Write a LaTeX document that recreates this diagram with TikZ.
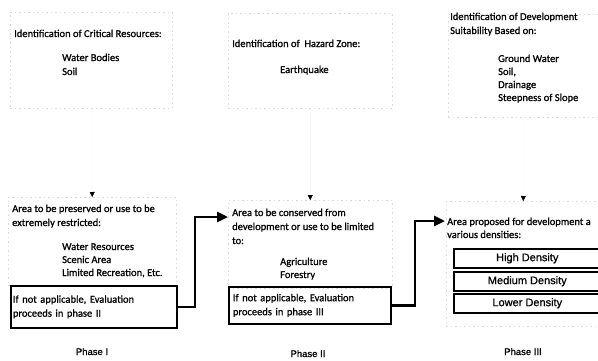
\documentclass[tikz,border=0pt]{standalone}
\usepackage{fontspec}
\setmainfont{Carlito}[FakeBold=0.9,BoldFont=Carlito]
\newfontfamily\arialf{Liberation Sans}[FakeBold=0.9,BoldFont=Liberation Sans]
\usetikzlibrary{arrows.meta}
\begin{document}
\begin{tikzpicture}[x=1pt,y=-1pt,
  txt/.style={anchor=base west, inner sep=0pt, font=\bfseries\fontsize{10.5}{12}\selectfont},
  faint/.style={draw=black!14, dash pattern=on 1.5pt off 3pt, line width=0.5pt, inner sep=0pt, anchor=north west},
  solidbox/.style={draw=black, line width=1.8pt, anchor=north west, align=left, inner ysep=0pt, font=\bfseries\fontsize{10.5}{14}\selectfont},
  densbox/.style={draw=black, line width=1.6pt, minimum height=19pt, minimum width=147pt, inner sep=0pt, anchor=north west, font=\arialf\bfseries\fontsize{11}{13}\selectfont},
  conn/.style={line width=2.6pt, -{Triangle[length=11pt,width=10pt]}},
  drop/.style={draw=black!3, line width=0.3pt, -{Triangle[length=5pt,width=5pt,black]}},
  phase/.style={font=\arialf\bfseries\fontsize{9.5}{11}\selectfont, anchor=base, inner sep=0pt}
]
\useasboundingbox (0,0) rectangle (598,360);
\clip (0,0) rectangle (598,360);

% top boxes
\node[faint, minimum width=162pt, minimum height=96pt] (t1) at (10,12) {};
\node[faint, minimum width=164pt, minimum height=95pt] (t2) at (228,13) {};
\node[faint, minimum width=152pt, minimum height=103pt] (t3) at (448,14) {};

\node[txt] (t1a) at (14,37) {Identification of Critical Resources:};
\node[txt] (t1b) at (62,61) {Water Bodies};
\node[txt] (t1c) at (62,75) {Soil};

\node[txt] (t2a) at (232,47) {Identification of \ Hazard Zone:};
\node[txt] (t2b) at (280,73) {Earthquake};

\node[txt] (t3a) at (450,20) {Identification of Development};
\node[txt] (t3b) at (450,34) {Suitability Based on:};
\node[txt] (t3c) at (498,62) {Ground Water};
\node[txt] (t3d) at (498,75) {Soil,};
\node[txt] (t3e) at (498,88) {Drainage};
\node[txt] (t3f) at (498,101) {Steepness of Slope};

% bottom groups
\node[faint, minimum width=168pt, minimum height=88pt] (g1) at (8,197) {};
\node[faint, minimum width=164pt, minimum height=88pt] (g2) at (228,200) {};
\node[faint, minimum width=154pt, minimum height=125pt] (g3) at (446,201) {};

\draw[drop] (t1.south) -- (g1.north);
\draw[drop] (t2.south) -- (g2.north);
\draw[drop] (t3.south) -- (g3.north);

% Phase I
\node[txt] (a1) at (12,212) {Area to be preserved or use to be};
\node[txt] (a2) at (12,226) {extremely restricted:};
\node[txt] (a3) at (62,250) {Water Resources};
\node[txt] (a4) at (62,263) {Scenic Area};
\node[txt] (a5) at (62,276) {Limited Recreation, Etc.};
\node[solidbox, text width=162pt, minimum height=42pt, inner xsep=2pt] (np1) at (10,285) {If not applicable, Evaluation\\proceeds in phase II};

% Phase II
\node[txt] (b1) at (232,216) {Area to be conserved from};
\node[txt] (b2) at (232,230) {development or use to be limited};
\node[txt] (b3) at (232,244) {to:};
\node[txt] (b4) at (280,265) {Agriculture};
\node[txt] (b5) at (280,278) {Forestry};
\node[solidbox, text width=154pt, minimum height=37pt, inner xsep=4pt] (np2) at (228,286) {If not applicable, Evaluation\\proceeds in phase III};

% Phase III
\node[txt] (c1) at (447,225) {Area proposed for development a};
\node[txt] (c2) at (447,238) {various densities:};
\node[densbox] (d1) at (453,248) {High Density};
\node[densbox] (d2) at (453,271) {Medium Density};
\node[densbox] (d3) at (453,293) {Lower Density};

% connectors
\coordinate (in2) at (228,217);
\coordinate (in3) at (445,221);
\draw[conn] (np1.east) -- ++(17,0) |- (in2);
\draw[conn] (np2.east) -- ++(23,0) |- (in3);

% phase labels
\node[phase] (p1) at (92,355) {Phase I};
\node[phase] (p2) at (308,357) {Phase II};
\node[phase] (p3) at (523,355) {Phase III};
\end{tikzpicture}
\end{document}
